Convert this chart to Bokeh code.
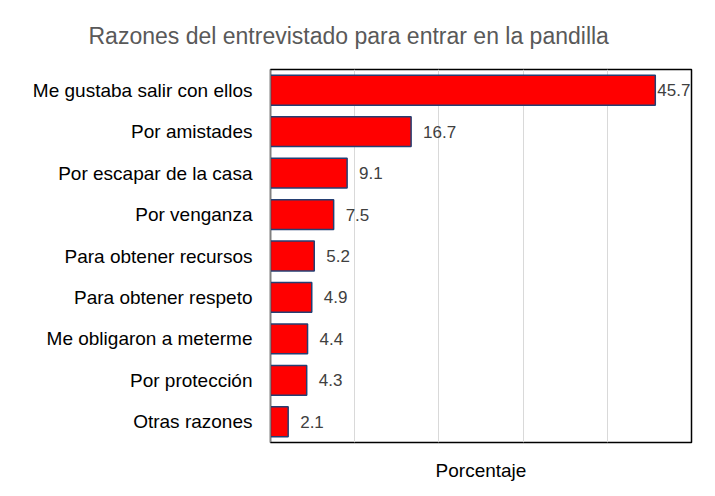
from bokeh.plotting import figure
from bokeh.models import ColumnDataSource, Range1d, FactorRange, FixedTicker, Title
from bokeh.core.properties import value
from bokeh.embed import file_html
from bokeh.resources import INLINE

categories = [
    "Me gustaba salir con ellos",
    "Por amistades",
    "Por escapar de la casa",
    "Por venganza",
    "Para obtener recursos",
    "Para obtener respeto",
    "Me obligaron a meterme",
    "Por protección",
    "Otras razones",
]
values = [45.7, 16.7, 9.1, 7.5, 5.2, 4.9, 4.4, 4.3, 2.1]
grid_ticks = [10, 20, 30, 40]

FONT = "Liberation Sans"

src = ColumnDataSource(dict(
    cat=categories,
    val=values,
    lab=[f"{v:.1f}" for v in values],
    xoff=[2 if v > 40 else 12 for v in values],
))

p = figure(
    width=711, height=492,
    y_range=FactorRange(*reversed(categories), range_padding=0),
    x_range=Range1d(0, 50),
    output_backend="svg", toolbar_location=None,
    min_border_left=270, min_border_right=20, min_border_top=69, min_border_bottom=50,
)
p.title = None
t = Title(text="Razones del entrevistado para entrar en la pandilla",
          align="left", offset=-182, standoff=38, vertical_align="top",
          text_font=FONT, text_font_size="23px", text_font_style="normal",
          text_color="#595959")
p.add_layout(t, "above")

p.hbar(y="cat", right="val", left=0, height=0.72, source=src,
       fill_color="#ff0000", line_color="#243f73", line_width=1.5)

p.text(x="val", y="cat", text="lab", source=src, x_offset="xoff",
       text_baseline="middle", text_align="left",
       text_font=value(FONT), text_font_size="17px", text_color="#404040")

p.ygrid.grid_line_color = None
p.xgrid.ticker = FixedTicker(ticks=grid_ticks)
p.xgrid.grid_line_color = "#d9d9d9"
p.xgrid.grid_line_width = 1

p.xaxis.ticker = FixedTicker(ticks=[])
p.xaxis.major_label_text_font_size = "0px"
p.xaxis.major_label_standoff = 0
p.xaxis.major_tick_out = 0
p.xaxis.major_tick_in = 0
p.xaxis.major_tick_line_color = None
p.xaxis.minor_tick_line_color = None
p.xaxis.axis_line_color = None
p.xaxis.axis_label = "Porcentaje"
p.xaxis.axis_label_text_font = FONT
p.xaxis.axis_label_text_font_style = "normal"
p.xaxis.axis_label_text_font_size = "19px"
p.xaxis.axis_label_text_color = "#000000"
p.xaxis.axis_label_standoff = 17

p.yaxis.major_tick_line_color = None
p.yaxis.minor_tick_line_color = None
p.yaxis.major_tick_out = 0
p.yaxis.major_tick_in = 0
p.yaxis.axis_line_color = "#808080"
p.yaxis.major_label_text_font = FONT
p.yaxis.major_label_text_font_size = "19px"
p.yaxis.major_label_text_color = "#000000"
p.yaxis.major_label_standoff = 18

p.outline_line_color = "#000000"
p.outline_line_width = 1.5
p.background_fill_color = "#ffffff"
p.border_fill_color = "#ffffff"

open("out.html", "w").write(file_html(p, INLINE))
